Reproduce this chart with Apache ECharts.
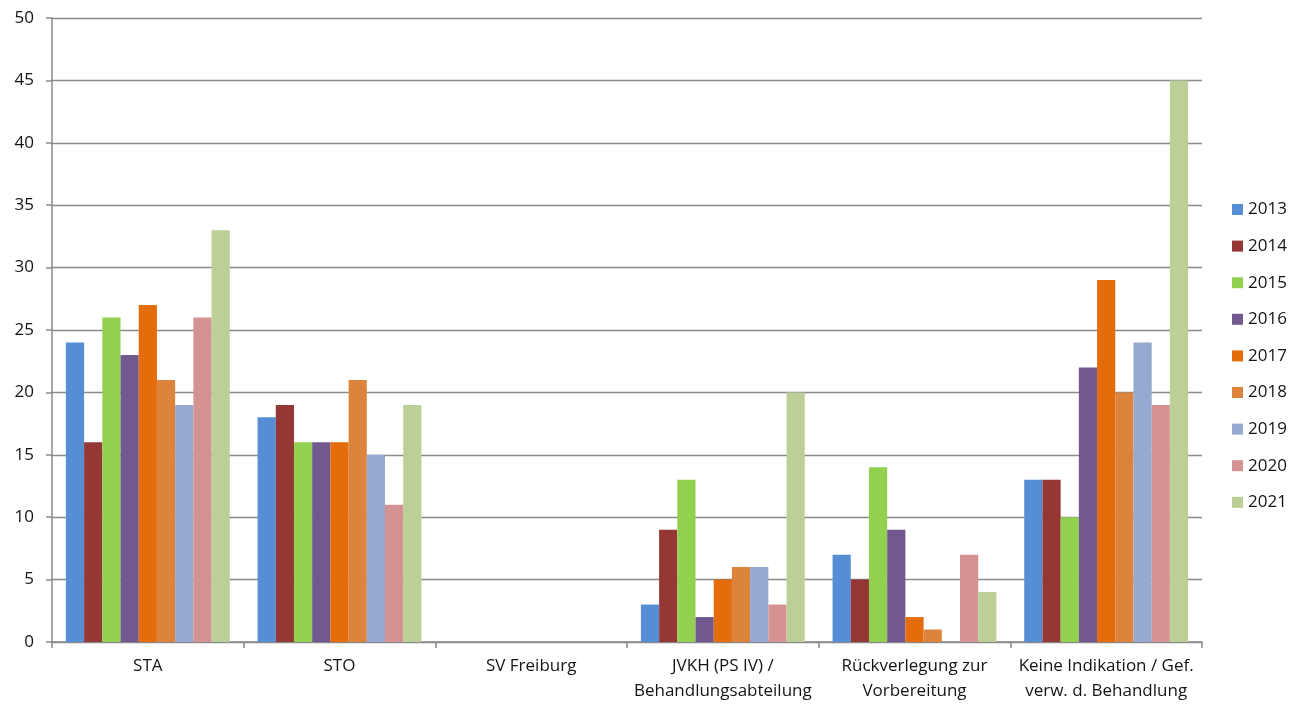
<!DOCTYPE html>
<html>
<head>
<meta charset="utf-8">
<script src="https://cdn.jsdelivr.net/npm/echarts@6/dist/echarts.min.js"></script>
<style>
  html, body { margin: 0; padding: 0; background: #ffffff; }
  #chart { width: 1299px; height: 706px; }
</style>
</head>
<body>
<div id="chart"></div>
<script>
// Kategorien (x-Achse)
const categories = [
  'STA',
  'STO',
  'SV Freiburg',
  'JVKH (PS IV) /\nBehandlungsabteilung',
  'Rückverlegung zur\nVorbereitung',
  'Keine Indikation / Gef.\nverw. d. Behandlung'
];

// Jahre (Datenreihen)
const years = ['2013', '2014', '2015', '2016', '2017', '2018', '2019', '2020', '2021'];

// Werte je Jahr, in der Reihenfolge der Kategorien
const v2013 = [24, 18, 0, 3, 7, 13];
const v2014 = [16, 19, 0, 9, 5, 13];
const v2015 = [26, 16, 0, 13, 14, 10];
const v2016 = [23, 16, 0, 2, 9, 22];
const v2017 = [27, 16, 0, 5, 2, 29];
const v2018 = [21, 21, 0, 6, 1, 20];
const v2019 = [19, 15, 0, 6, 0, 24];
const v2020 = [26, 11, 0, 3, 7, 19];
const v2021 = [33, 19, 0, 20, 4, 45];

const yearValues = [v2013, v2014, v2015, v2016, v2017, v2018, v2019, v2020, v2021];

const colors = ['#558ed5', '#953735', '#92d050', '#71588f', '#e46c0a',
                '#dd843c', '#95a9d1', '#d59292', '#bbcf97'];

const textColor = '#141414';
const fontFamily = 'Open Sans, Lato, sans-serif';

const chart = echarts.init(document.getElementById('chart'));

const series = years.map((y, i) => ({
  name: y,
  type: 'bar',
  data: yearValues[i],
  barGap: '0%',
  barCategoryGap: '14.5%',
  itemStyle: { color: colors[i] }
}));

chart.setOption({
  animation: false,
  color: colors,
  grid: { left: 52, right: 97, top: 18, bottom: 64, containLabel: false },
  legend: {
    orient: 'vertical',
    left: 1232,
    top: 200,
    padding: 0,
    itemWidth: 11,
    itemHeight: 11,
    itemGap: 17.6,
    icon: 'rect',
    textStyle: { color: textColor, fontSize: 17, lineHeight: 19, fontFamily: fontFamily, padding: [0, 0, 0, 0] },
    data: years
  },
  xAxis: {
    type: 'category',
    data: categories,
    axisLine: { lineStyle: { color: '#8a8a8a', width: 1.5 } },
    axisTick: { show: true, alignWithLabel: false, length: 6, lineStyle: { color: '#8a8a8a', width: 1.5 } },
    axisLabel: {
      color: textColor,
      fontSize: 17,
      fontFamily: fontFamily,
      margin: 12,
      lineHeight: 25,
      interval: 0
    }
  },
  yAxis: {
    type: 'value',
    min: 0,
    max: 50,
    interval: 5,
    axisLine: { show: true, lineStyle: { color: '#8a8a8a', width: 1.5 } },
    axisTick: { show: true, length: 6, lineStyle: { color: '#8a8a8a', width: 1.5 } },
    splitLine: { show: true, lineStyle: { color: '#8a8a8a', width: 1.3 } },
    axisLabel: {
      color: textColor,
      fontSize: 17,
      fontFamily: fontFamily,
      margin: 18
    }
  },
  series: series
});
</script>
</body>
</html>
